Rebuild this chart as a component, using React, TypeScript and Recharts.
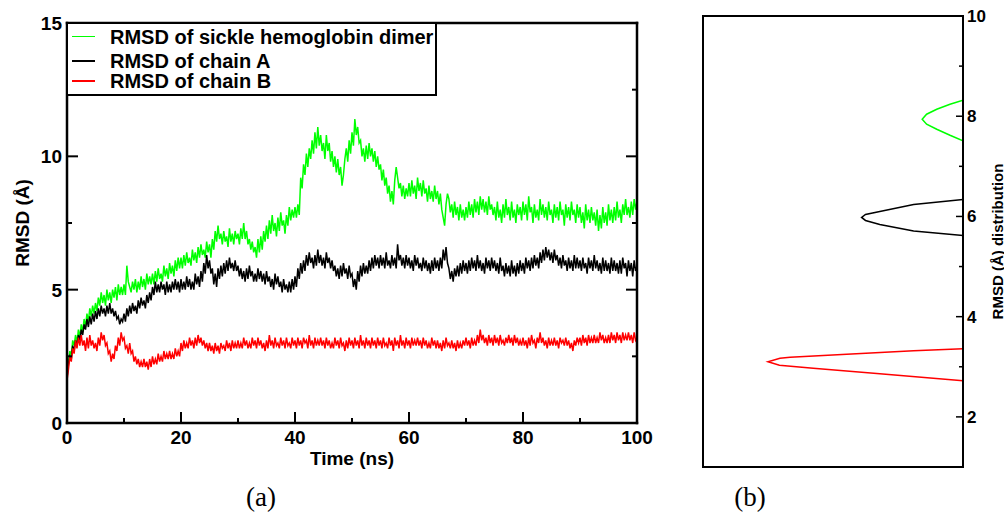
import React from 'react';
import { LineChart, Line, XAxis, YAxis, Legend } from 'recharts';

// RMSD (Å) every 0.25 ns, 0..100 ns
const dimer = [
  1.8, 2.3, 2.7, 2.5, 3.1, 2.9, 3.3, 3.0, 3.5, 3.2, 3.7, 3.4, 3.9, 3.6, 4.1, 3.8, 4.3, 4.0, 4.4, 4.1,
  4.5, 4.2, 4.7, 4.4, 4.9, 4.5, 4.8, 4.4, 5.0, 4.6, 4.9, 4.5, 5.0, 4.7, 5.1, 4.6, 5.2, 4.8, 5.1, 4.8,
  5.2, 4.8, 5.9, 5.3, 5.1, 4.9, 5.3, 5.0, 5.4, 4.9, 5.3, 5.0, 5.5, 5.1, 5.4, 5.0, 5.6, 5.2, 5.5, 5.2,
  5.6, 5.2, 5.7, 5.3, 5.8, 5.4, 5.6, 5.3, 5.9, 5.5, 5.8, 5.4, 6.0, 5.6, 5.9, 5.5, 6.1, 5.7, 6.2, 5.8,
  6.2, 5.8, 6.3, 5.9, 6.4, 6.0, 6.2, 5.9, 6.5, 6.1, 6.4, 6.0, 6.6, 6.2, 6.7, 6.3, 6.5, 6.2, 6.8, 6.4,
  6.7, 6.2, 6.9, 6.5, 7.2, 6.8, 7.4, 6.9, 7.1, 6.7, 7.2, 6.8, 7.0, 6.6, 7.3, 6.8, 7.1, 6.7, 7.2, 6.9,
  7.1, 6.7, 7.3, 6.9, 7.5, 6.9, 7.2, 6.7, 6.9, 6.5, 6.8, 6.4, 6.6, 6.2, 6.9, 6.4, 7.0, 6.5, 7.2, 6.8,
  7.4, 6.9, 7.6, 7.1, 7.8, 7.2, 7.5, 7.0, 7.7, 7.2, 7.9, 7.4, 7.6, 7.1, 7.8, 7.4, 8.1, 7.6, 8.0, 7.7,
  8.1, 7.7, 8.2, 7.8, 9.2, 8.8, 9.7, 9.3, 10.1, 9.6, 10.3, 9.9, 10.6, 10.1, 10.9, 10.3, 11.1, 10.4, 10.8, 10.2,
  10.5, 9.9, 10.8, 10.2, 10.5, 9.8, 10.2, 9.6, 10.0, 9.4, 9.9, 9.3, 9.6, 8.9, 9.3, 9.9, 10.3, 9.8, 10.6, 10.1,
  10.9, 10.4, 11.4, 10.8, 11.1, 10.5, 10.6, 10.0, 10.3, 9.8, 10.4, 9.9, 10.5, 10.0, 10.3, 9.8, 10.2, 9.6, 10.0, 9.5,
  9.7, 9.1, 9.5, 8.9, 9.2, 8.6, 8.9, 8.3, 8.7, 8.2, 9.1, 9.6, 9.2, 8.8, 9.0, 8.5, 8.9, 8.4, 8.8, 8.5,
  9.0, 8.5, 9.1, 8.6, 8.9, 8.4, 9.2, 8.7, 9.0, 8.5, 9.1, 8.6, 8.8, 8.3, 8.9, 8.4, 8.7, 8.3, 8.9, 8.4,
  8.7, 8.2, 8.6, 8.0, 7.7, 7.4, 8.2, 8.6, 8.4, 7.9, 8.2, 7.7, 8.3, 7.8, 8.1, 7.6, 8.2, 7.7, 8.0, 7.6,
  8.1, 7.7, 8.3, 7.8, 8.2, 7.7, 8.4, 7.9, 8.3, 7.8, 8.5, 8.0, 8.4, 7.9, 8.3, 7.8, 8.5, 8.0, 8.2, 7.8,
  8.1, 7.6, 8.3, 7.7, 8.0, 7.5, 8.2, 7.7, 8.4, 7.8, 8.1, 7.6, 8.3, 7.7, 8.0, 7.5, 8.2, 7.8, 8.1, 7.6,
  8.3, 7.8, 8.2, 7.6, 8.5, 7.9, 8.1, 7.5, 8.2, 7.7, 8.0, 7.6, 8.4, 7.8, 8.2, 7.7, 8.1, 7.6, 8.3, 7.8,
  8.0, 7.5, 8.2, 7.7, 8.1, 7.6, 8.3, 7.8, 8.0, 7.4, 8.2, 7.7, 8.1, 7.6, 8.3, 7.8, 8.0, 7.5, 8.2, 7.7,
  8.1, 7.5, 7.9, 7.3, 8.2, 7.6, 8.0, 7.5, 8.1, 7.6, 7.9, 7.4, 8.0, 7.2, 7.8, 7.3, 8.1, 7.5, 7.9, 7.4,
  8.2, 7.6, 8.0, 7.5, 8.1, 7.6, 8.3, 7.7, 8.0, 7.5, 8.2, 7.8, 8.4, 7.8, 8.1, 7.7, 8.3, 7.8, 8.4, 8.0,
  8.3,
];

const chainA = [
  1.7, 2.2, 2.5, 2.4, 2.9, 2.7, 3.1, 2.9, 3.3, 3.1, 3.5, 3.3, 3.7, 3.5, 3.9, 3.6, 4.0, 3.7, 4.1, 3.8,
  4.2, 3.9, 4.3, 4.0, 4.4, 4.1, 4.3, 4.0, 4.4, 4.1, 4.5, 4.1, 4.3, 4.0, 4.2, 3.9, 4.0, 3.7, 3.9, 3.8,
  4.1, 3.8, 4.3, 4.0, 4.4, 4.1, 4.5, 4.2, 4.4, 4.1, 4.6, 4.3, 4.7, 4.4, 4.6, 4.3, 4.8, 4.5, 4.9, 4.6,
  5.1, 4.8, 5.3, 4.9, 5.2, 4.9, 5.3, 5.0, 5.2, 4.8, 5.3, 4.9, 5.2, 4.9, 5.3, 5.0, 5.4, 5.0, 5.3, 4.9,
  5.4, 5.0, 5.3, 5.0, 5.5, 5.1, 5.4, 5.0, 5.3, 5.0, 5.6, 5.2, 5.5, 5.1, 5.7, 5.3, 6.0, 5.6, 6.3, 5.8,
  6.1, 5.6, 5.8, 5.2, 5.6, 5.1, 5.8, 5.4, 5.9, 5.5, 6.0, 5.6, 6.1, 5.7, 6.2, 5.8, 6.0, 5.7, 6.1, 5.7,
  5.9, 5.5, 5.8, 5.4, 5.7, 5.3, 5.8, 5.4, 5.9, 5.5, 5.7, 5.3, 5.6, 5.3, 5.8, 5.4, 5.7, 5.3, 5.6, 5.2,
  5.7, 5.3, 5.5, 5.1, 5.4, 5.0, 5.6, 5.2, 5.5, 5.1, 5.3, 4.9, 5.4, 5.0, 5.2, 4.9, 5.3, 4.9, 5.4, 5.0,
  5.5, 5.1, 5.8, 5.4, 6.0, 5.6, 6.1, 5.7, 6.3, 5.9, 6.4, 6.0, 6.2, 5.8, 6.3, 5.9, 6.5, 6.0, 6.3, 5.9,
  6.2, 5.8, 6.4, 6.0, 6.2, 5.8, 6.1, 5.7, 5.9, 5.5, 5.8, 5.4, 5.9, 5.5, 6.0, 5.6, 5.8, 5.4, 5.9, 5.5,
  5.6, 5.1, 5.4, 5.0, 5.7, 5.3, 5.9, 5.5, 6.0, 5.6, 5.9, 5.6, 6.1, 5.7, 6.2, 5.8, 6.3, 5.9, 6.2, 5.8,
  6.3, 5.9, 6.2, 5.8, 6.4, 5.9, 6.1, 5.8, 6.3, 5.9, 6.2, 5.8, 6.7, 6.1, 6.3, 5.9, 6.2, 5.8, 6.3, 5.9,
  6.2, 5.8, 6.1, 5.7, 6.3, 5.9, 6.2, 5.8, 6.0, 5.7, 6.2, 5.8, 6.1, 5.7, 6.0, 5.6, 6.1, 5.7, 6.2, 5.8,
  6.1, 5.7, 6.2, 5.8, 6.5, 6.1, 6.6, 6.0, 5.8, 5.4, 5.7, 5.3, 5.8, 5.5, 5.9, 5.5, 6.0, 5.6, 6.1, 5.7,
  6.0, 5.6, 6.1, 5.7, 6.2, 5.8, 6.1, 5.7, 6.3, 5.8, 6.1, 5.7, 6.0, 5.6, 6.2, 5.8, 6.1, 5.7, 6.2, 5.8,
  6.1, 5.7, 6.0, 5.6, 6.2, 5.7, 5.9, 5.5, 6.0, 5.6, 5.9, 5.5, 6.1, 5.6, 5.9, 5.5, 6.0, 5.6, 6.1, 5.7,
  6.0, 5.6, 6.2, 5.8, 6.1, 5.7, 6.2, 5.8, 6.3, 5.9, 6.2, 5.8, 6.4, 6.0, 6.5, 6.1, 6.6, 6.2, 6.5, 6.1,
  6.4, 6.0, 6.5, 6.1, 6.3, 5.9, 6.2, 5.8, 6.3, 5.9, 6.1, 5.7, 6.2, 5.8, 6.1, 5.7, 6.3, 5.8, 6.2, 5.8,
  6.1, 5.7, 6.2, 5.8, 6.0, 5.6, 6.2, 5.8, 6.1, 5.7, 6.3, 5.8, 6.1, 5.7, 6.0, 5.6, 6.2, 5.7, 6.1, 5.7,
  6.0, 5.6, 6.2, 5.7, 6.1, 5.7, 6.0, 5.6, 6.1, 5.6, 6.2, 5.8, 6.0, 5.5, 6.1, 5.7, 6.0, 5.5, 6.1, 5.7,
  5.9,
];

const chainB = [
  1.6, 2.0, 2.5, 2.3, 2.8, 2.6, 3.1, 2.8, 3.2, 2.9, 3.3, 2.9, 3.1, 2.7, 3.2, 2.8, 3.3, 2.9, 3.1, 2.8,
  3.0, 2.7, 3.2, 2.9, 3.4, 3.1, 3.3, 2.9, 3.0, 2.6, 2.7, 2.3, 2.6, 2.4, 2.9, 2.7, 3.2, 2.9, 3.4, 3.1,
  3.2, 2.8, 2.9, 2.6, 3.0, 2.6, 2.7, 2.3, 2.5, 2.2, 2.4, 2.1, 2.3, 2.1, 2.4, 2.1, 2.3, 2.0, 2.4, 2.1,
  2.5, 2.2, 2.4, 2.2, 2.6, 2.3, 2.5, 2.3, 2.7, 2.4, 2.6, 2.4, 2.7, 2.4, 2.6, 2.4, 2.8, 2.5, 2.7, 2.5,
  3.0, 2.7, 3.1, 2.8, 3.0, 2.8, 3.2, 2.9, 3.1, 2.8, 3.2, 2.9, 3.3, 3.0, 3.2, 2.9, 3.1, 2.8, 3.0, 2.7,
  3.0, 2.7, 2.9, 2.6, 3.0, 2.7, 2.9, 2.6, 3.0, 2.8, 2.9, 2.7, 3.1, 2.8, 3.0, 2.7, 3.1, 2.8, 3.0, 2.8,
  3.1, 2.8, 3.0, 2.8, 3.2, 2.9, 3.1, 2.8, 3.0, 2.8, 3.2, 2.9, 3.1, 2.8, 3.2, 2.9, 3.1, 2.8, 3.0, 2.7,
  3.1, 2.8, 3.3, 2.9, 3.1, 2.8, 3.2, 2.9, 3.0, 2.8, 3.2, 2.9, 3.1, 2.8, 3.2, 2.9, 3.0, 2.8, 3.2, 2.9,
  3.1, 2.8, 3.2, 2.9, 3.1, 2.8, 3.2, 3.0, 3.1, 2.8, 3.3, 2.9, 3.1, 2.8, 3.2, 2.9, 3.1, 2.9, 3.2, 2.9,
  3.1, 2.8, 3.2, 2.9, 3.1, 2.8, 3.0, 2.8, 3.2, 2.9, 3.1, 2.8, 3.2, 2.9, 3.0, 2.7, 3.1, 2.8, 3.2, 2.9,
  3.1, 2.8, 3.2, 2.9, 3.1, 2.8, 3.3, 2.9, 3.1, 2.8, 3.2, 2.9, 3.1, 2.8, 3.2, 2.9, 3.1, 2.8, 3.2, 2.9,
  3.1, 2.8, 3.2, 2.9, 3.0, 2.8, 3.2, 2.9, 3.1, 2.7, 3.2, 2.9, 3.1, 2.8, 3.3, 2.9, 3.1, 2.8, 3.2, 2.9,
  3.1, 2.8, 3.2, 2.9, 3.1, 2.9, 3.2, 2.9, 3.1, 2.8, 3.2, 2.9, 3.1, 2.8, 3.0, 2.8, 3.2, 2.9, 3.1, 2.8,
  3.1, 2.8, 3.0, 2.7, 3.1, 2.8, 3.2, 2.9, 3.0, 2.8, 3.1, 2.8, 3.0, 2.7, 3.1, 2.8, 3.0, 2.8, 3.1, 2.9,
  3.2, 2.9, 3.1, 2.8, 3.2, 2.9, 3.1, 2.9, 3.3, 3.0, 3.5, 3.1, 3.3, 3.0, 3.2, 2.9, 3.3, 3.0, 3.2, 2.9,
  3.3, 3.0, 3.2, 2.9, 3.3, 3.0, 3.1, 2.9, 3.2, 3.0, 3.3, 3.0, 3.2, 2.9, 3.3, 3.0, 3.2, 2.9, 3.1, 2.9,
  3.2, 2.9, 3.1, 2.8, 3.2, 2.9, 3.3, 3.0, 3.1, 2.8, 3.2, 3.0, 3.4, 3.0, 3.2, 2.9, 3.1, 2.8, 3.2, 2.9,
  3.1, 2.9, 3.2, 2.9, 3.1, 2.8, 3.2, 3.0, 3.1, 2.9, 3.2, 2.9, 3.1, 2.8, 3.0, 2.7, 3.1, 2.9, 3.2, 3.0,
  3.2, 2.9, 3.3, 3.0, 3.2, 2.9, 3.3, 3.0, 3.2, 3.0, 3.3, 3.0, 3.2, 3.0, 3.4, 3.1, 3.3, 3.0, 3.2, 3.0,
  3.3, 3.0, 3.4, 3.1, 3.3, 3.0, 3.4, 3.1, 3.3, 3.0, 3.4, 3.1, 3.3, 3.1, 3.4, 3.1, 3.3, 3.0, 3.4, 3.1,
  3.2,
];

const time = dimer.map((_, i) => i * 0.25);

const timeTicks = [0, 10, 20, 30, 40, 50, 60, 70, 80, 90, 100];
const rmsdTicks = [0, 2.5, 5, 7.5, 10, 12.5, 15];
const distTicks = [2, 3, 4, 5, 6, 7, 8, 9, 10];

// distribution curves: rmsd value vs. density (0-100 across the panel)
const distDimerR = [8.32, 8.24, 8.14, 8.04, 7.94, 7.84, 7.74, 7.62, 7.51];
const distDimerD = [100, 95, 89.9, 86, 84.3, 86, 89.9, 95, 100];
const distAR = [6.34, 6.24, 6.1, 6.04, 5.98, 5.92, 5.84, 5.71, 5.62];
const distAD = [100, 81, 68, 62.5, 61, 62.5, 68, 81, 100];
const distBR = [3.36, 3.32, 3.25, 3.19, 3.17, 3.1, 3.03, 2.97, 2.86, 2.72];
const distBD = [100, 81, 55.3, 33.5, 29.6, 25, 29.4, 42.4, 68, 100];

const names = ['RMSD of sickle hemoglobin dimer', 'RMSD of chain A', 'RMSD of chain B'];
const colors = ['#00ff00', '#000000', '#ff0000'];

const rows = time.map((t, i) => ({ t, g: dimer[i], a: chainA[i], b: chainB[i] }));
const pairs = (r: number[], d: number[]) => r.map((v, i) => ({ r: v, d: d[i] }));

const FONT = '"Liberation Sans", Arial, Helvetica, sans-serif';

const BottomTick = ({ x, y, payload }: any) => {
  const major = payload.value % 20 === 0;
  return (
    <g>
      <line x1={x} x2={x} y1={y} y2={y - (major ? 11 : 5)} stroke="#000" strokeWidth={2} />
      {major && (
        <text x={x} y={y + 21} textAnchor="middle" fontFamily={FONT} fontWeight="bold" fontSize={19} fill="#000">
          {payload.value}
        </text>
      )}
    </g>
  );
};

const TopTick = ({ x, y, payload }: any) => {
  const major = payload.value % 20 === 0;
  return <line x1={x} x2={x} y1={y} y2={y + (major ? 11 : 5)} stroke="#000" strokeWidth={2} />;
};

const LeftTick = ({ x, y, payload }: any) => {
  const major = payload.value % 5 === 0;
  return (
    <g>
      <line x1={x} x2={x + (major ? 11 : 5)} y1={y} y2={y} stroke="#000" strokeWidth={2} />
      {major && (
        <text x={x - 5} y={y + 7} textAnchor="end" fontFamily={FONT} fontWeight="bold" fontSize={19} fill="#000">
          {payload.value}
        </text>
      )}
    </g>
  );
};

const RightTick = ({ x, y, payload }: any) => {
  const major = payload.value % 5 === 0;
  return <line x1={x} x2={x - (major ? 11 : 5)} y1={y} y2={y} stroke="#000" strokeWidth={2} />;
};

const DistLeftTick = ({ x, y, payload }: any) => {
  const major = payload.value % 2 === 0;
  return <line x1={x} x2={x + (major ? 8 : 4)} y1={y} y2={y} stroke="#000" strokeWidth={1.5} />;
};

const DistRightTick = ({ x, y, payload }: any) => {
  const major = payload.value % 2 === 0;
  return (
    <g>
      <line x1={x} x2={x - (major ? 7 : 4)} y1={y} y2={y} stroke="#000" strokeWidth={1.5} />
      {major && (
        <text x={x + 4} y={y + 6} textAnchor="start" fontFamily={FONT} fontWeight="bold" fontSize={17} fill="#000">
          {payload.value}
        </text>
      )}
    </g>
  );
};

const XTitle = ({ viewBox }: any) => (
  <text x={viewBox.x + viewBox.width / 2} y={viewBox.y + 42} textAnchor="middle" fontFamily={FONT} fontWeight="bold" fontSize={19} fill="#000">
    Time (ns)
  </text>
);

const YTitle = ({ viewBox }: any) => {
  const cx = viewBox.x + 22;
  const cy = viewBox.y + viewBox.height / 2;
  return (
    <text x={cx} y={cy} transform={`rotate(-90 ${cx} ${cy})`} textAnchor="middle" dominantBaseline="central" fontFamily={FONT} fontWeight="bold" fontSize={19} fill="#000">
      RMSD (Å)
    </text>
  );
};

const DistTitle = ({ viewBox }: any) => {
  const cx = viewBox.x + 34;
  const cy = viewBox.y + viewBox.height / 2;
  return (
    <text x={cx} y={cy} transform={`rotate(-90 ${cx} ${cy})`} textAnchor="middle" dominantBaseline="central" fontFamily={FONT} fontWeight="bold" fontSize={15} fill="#000">
      RMSD (Å) distribution
    </text>
  );
};

// legend rows in the order of the original figure
const LegendBox = () => {
  const tops = [15, 39.5, 59.5];
  return (
    <div style={{ position: 'relative', width: 371, height: 74, boxSizing: 'border-box', border: '2.5px solid #000', background: '#fff', fontFamily: FONT, fontWeight: 'bold', fontSize: 20 }}>
      {names.map((n, i) => (
        <div key={n} style={{ position: 'absolute', left: 4, top: tops[i] - 2.5, height: 0 }}>
          <div style={{ position: 'absolute', left: 0, top: -1, width: 23, height: 1.5, background: colors[i] }} />
          <div style={{ position: 'absolute', left: 38, top: -12, lineHeight: '24px', whiteSpace: 'nowrap', color: '#000' }}>{n}</div>
        </div>
      ))}
    </div>
  );
};

const frame = { stroke: '#000', strokeWidth: 2.5, strokeLinecap: 'square' as const };
const thinFrame = { stroke: '#000', strokeWidth: 2, strokeLinecap: 'square' as const };
const serif = '"Liberation Serif", "Times New Roman", serif';

export default function App() {
  return (
    <div style={{ position: 'absolute', left: 0, top: 0, width: 1004, height: 513, background: '#fff' }}>
      <div style={{ position: 'absolute', left: 0, top: 0 }}>
        <LineChart width={660} height={513} data={rows} margin={{ top: 22, right: 22, bottom: 60, left: 0 }}>
          <XAxis dataKey="t" type="number" domain={[0, 100]} ticks={timeTicks} interval={0} height={30} tickSize={0} tickMargin={0} tickLine={false} tick={BottomTick} axisLine={frame} label={{ content: XTitle }} />
          <XAxis xAxisId="top" orientation="top" type="number" domain={[0, 100]} allowDataOverflow ticks={timeTicks} interval={0} height={1} tickSize={0} tickMargin={0} tickLine={false} tick={TopTick} axisLine={frame} />
          <YAxis type="number" domain={[0, 15]} ticks={rmsdTicks} interval={0} width={67} tickSize={0} tickMargin={0} tickLine={false} tick={LeftTick} axisLine={frame} label={{ content: YTitle }} />
          <YAxis yAxisId="right" orientation="right" type="number" domain={[0, 15]} allowDataOverflow ticks={rmsdTicks} interval={0} width={1} tickSize={0} tickMargin={0} tickLine={false} tick={RightTick} axisLine={frame} />
          <Legend layout="vertical" align="center" verticalAlign="middle" wrapperStyle={{ left: 66, top: 22, width: 371, height: 74 }} content={LegendBox} />
          <Line dataKey="g" name={names[0]} stroke={colors[0]} strokeWidth={1.5} dot={false} isAnimationActive={false} />
          <Line dataKey="a" name={names[1]} stroke={colors[1]} strokeWidth={1.5} dot={false} isAnimationActive={false} />
          <Line dataKey="b" name={names[2]} stroke={colors[2]} strokeWidth={1.5} dot={false} isAnimationActive={false} />
        </LineChart>
      </div>
      <div style={{ position: 'absolute', left: 660, top: 0 }}>
        <LineChart layout="vertical" width={344} height={513} margin={{ top: 15, right: 0, bottom: 45, left: 42 }}>
          <XAxis type="number" domain={[0, 100]} allowDataOverflow ticks={[0, 100]} height={1} tick={false} tickLine={false} axisLine={thinFrame} />
          <XAxis xAxisId="top" orientation="top" type="number" domain={[0, 100]} allowDataOverflow ticks={[0, 100]} height={1} tick={false} tickLine={false} axisLine={thinFrame} />
          <YAxis yAxisId="l" type="number" domain={[1, 10]} allowDataOverflow reversed ticks={distTicks} interval={0} width={1} tickSize={0} tickMargin={0} tickLine={false} tick={DistLeftTick} axisLine={thinFrame} />
          <YAxis yAxisId="r" orientation="right" dataKey="r" type="number" domain={[1, 10]} allowDataOverflow reversed ticks={distTicks} interval={0} width={41} tickSize={0} tickMargin={0} tickLine={false} tick={DistRightTick} axisLine={thinFrame} label={{ content: DistTitle }} />
          <Line yAxisId="r" data={pairs(distDimerR, distDimerD)} dataKey="d" stroke={colors[0]} strokeWidth={1.5} dot={false} isAnimationActive={false} />
          <Line yAxisId="r" data={pairs(distAR, distAD)} dataKey="d" stroke={colors[1]} strokeWidth={1.5} dot={false} isAnimationActive={false} />
          <Line yAxisId="r" data={pairs(distBR, distBD)} dataKey="d" stroke={colors[2]} strokeWidth={1.5} dot={false} isAnimationActive={false} />
        </LineChart>
      </div>
      <div style={{ position: 'absolute', left: 261, top: 497, transform: 'translate(-50%, -50%)', fontFamily: serif, fontSize: 27, lineHeight: 1 }}>(a)</div>
      <div style={{ position: 'absolute', left: 750, top: 497, transform: 'translate(-50%, -50%)', fontFamily: serif, fontSize: 27, lineHeight: 1 }}>(b)</div>
    </div>
  );
}
